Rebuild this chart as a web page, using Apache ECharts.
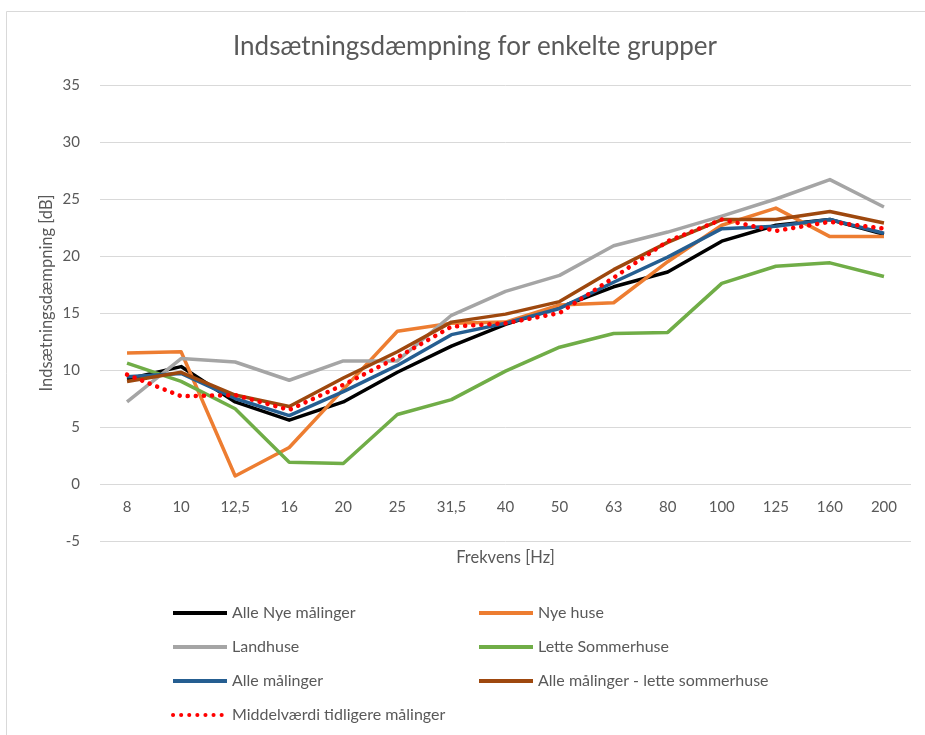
<!DOCTYPE html>
<html>
<head>
<meta charset="utf-8">
<script src="https://cdn.jsdelivr.net/npm/echarts@6/dist/echarts.min.js"></script>
<style>
  html, body { margin: 0; padding: 0; background: #fff; }
  #app { width: 925px; height: 735px; }
</style>
</head>
<body>
<div id="app"></div>
<script>
// frekvenser (x-akse)
var frekvens = ['8', '10', '12,5', '16', '20', '25', '31,5', '40', '50', '63', '80', '100', '125', '160', '200'];

// dB-værdier
var alleNye        = [9.2, 10.3, 7.2, 5.6, 7.2, 9.8, 12.1, 14.0, 15.5, 17.3, 18.6, 21.3, 22.7, 23.2, 21.9];
var nyeHuse        = [11.5, 11.6, 0.7, 3.2, 8.3, 13.4, 14.1, 14.2, 15.7, 15.9, 19.5, 22.7, 24.2, 21.7, 21.7];
var landhuse       = [7.2, 11.0, 10.7, 9.1, 10.8, 10.8, 14.8, 16.9, 18.3, 20.9, 22.1, 23.5, 25.0, 26.7, 24.3];
var letteSommer    = [10.6, 9.0, 6.6, 1.9, 1.8, 6.1, 7.4, 9.9, 12.0, 13.2, 13.3, 17.6, 19.1, 19.4, 18.2];
var alleMaalinger  = [9.4, 9.7, 7.5, 6.0, 8.1, 10.4, 13.1, 14.1, 15.4, 17.7, 19.9, 22.4, 22.6, 23.2, 22.0];
var alleMinusLette = [9.0, 9.8, 7.8, 6.8, 9.3, 11.6, 14.2, 14.9, 16.0, 18.8, 21.2, 23.2, 23.2, 23.9, 22.9];
var middelvaerdi   = [9.6, 7.7, 7.8, 6.5, 8.7, 11.1, 13.8, 14.1, 15.0, 18.1, 21.3, 23.2, 22.2, 23.0, 22.4];

var font = 'Lato, "Open Sans", sans-serif';
var txt = '#595959';

function line(name, data, color, extra) {
    var s = {
        name: name,
        type: 'line',
        data: data,
        symbol: 'none',
        smooth: false,
        lineStyle: { color: color, width: 3.5, join: 'round' },
        itemStyle: { color: color },
        emphasis: { disabled: true }
    };
    if (extra) {
        s.lineStyle.type = extra.type;
        s.lineStyle.cap = extra.cap;
        s.lineStyle.width = extra.width;
    }
    return s;
}

var legendBase = {
    top: 600,
    orient: 'vertical',
    itemWidth: 54,
    itemHeight: 14,
    itemGap: 18,
    itemStyle: { opacity: 0 },
    lineStyle: { width: 4 },
    textStyle: { fontFamily: font, fontSize: 16, color: txt }
};

var myChart = echarts.init(document.getElementById('app'));

var option = {
    animation: false,
    backgroundColor: '#fff',
    title: {
        text: 'Indsætningsdæmpning for enkelte grupper',
        left: 470,
        textAlign: 'center',
        top: 29,
        textStyle: { fontFamily: font, fontSize: 26, fontWeight: 'normal', color: txt }
    },
    graphic: [
        {
            type: 'rect',
            z: -10,
            shape: { x: 6.5, y: 11.5, width: 1000, height: 1000 },
            style: { fill: 'none', stroke: '#d9d9d9', lineWidth: 1 }
        },
        {
            type: 'text',
            x: 47,
            y: 293,
            rotation: Math.PI / 2,
            style: {
                text: 'Indsætningsdæmpning [dB]',
                fill: txt,
                font: '16.5px ' + font,
                align: 'center',
                verticalAlign: 'middle'
            }
        }
    ],
    legend: [
        Object.assign({}, legendBase, {
            left: 166,
            data: ['Alle Nye målinger', 'Landhuse', 'Alle målinger', 'Middelværdi tidligere målinger']
        }),
        Object.assign({}, legendBase, {
            left: 472,
            data: ['Nye huse', 'Lette Sommerhuse', 'Alle målinger - lette sommerhuse']
        })
    ],
    grid: { left: 100, right: 14, top: 85, bottom: 194, containLabel: false },
    xAxis: {
        type: 'category',
        data: frekvens,
        boundaryGap: true,
        offset: -57,
        name: 'Frekvens [Hz]',
        nameLocation: 'middle',
        nameGap: 65,
        nameTextStyle: { fontFamily: font, fontSize: 16.5, color: txt },
        axisLine: { onZero: false, show: false },
        axisTick: { show: false },
        axisLabel: { fontFamily: font, fontSize: 15, color: txt, margin: 16 }
    },
    yAxis: {
        type: 'value',
        min: -5,
        max: 35,
        interval: 5,
        axisLine: { show: false },
        axisTick: { show: false },
        axisLabel: { fontFamily: font, fontSize: 15, color: txt, margin: 20 },
        splitLine: { lineStyle: { color: '#d9d9d9', width: 1 } }
    },
    series: [
        line('Alle Nye målinger', alleNye, '#000000'),
        line('Nye huse', nyeHuse, '#ED7D31'),
        line('Landhuse', landhuse, '#A5A5A5'),
        line('Lette Sommerhuse', letteSommer, '#70AD47'),
        line('Alle målinger', alleMaalinger, '#255E91'),
        line('Alle målinger - lette sommerhuse', alleMinusLette, '#9E480E'),
        line('Middelværdi tidligere målinger', middelvaerdi, '#FF0000', { type: [0.1, 8], cap: 'round', width: 4.5 })
    ]
};

myChart.setOption(option);
</script>
</body>
</html>
